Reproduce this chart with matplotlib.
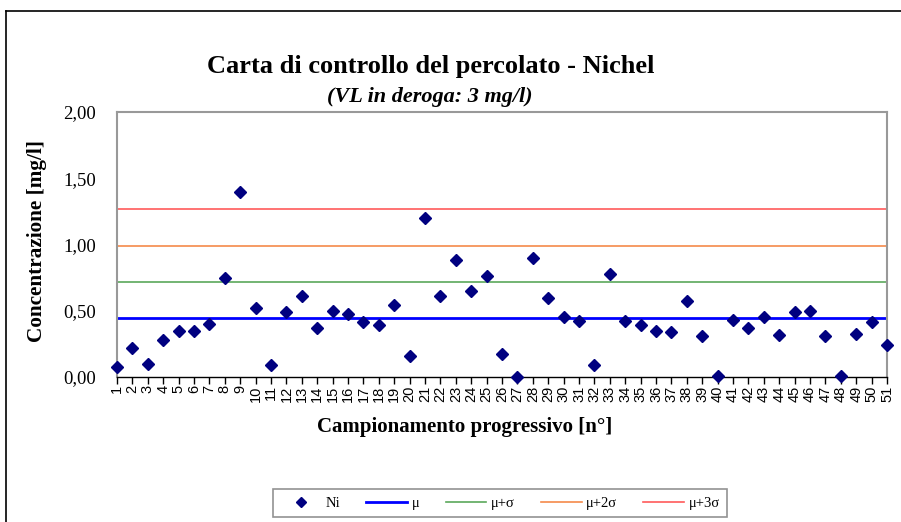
import numpy as np
import matplotlib
matplotlib.use("Agg")
import matplotlib.pyplot as plt
from matplotlib.lines import Line2D

# Dati
campioni = np.arange(1, 52)
nichel = [0.078, 0.218, 0.099, 0.283, 0.344, 0.344, 0.400, 0.750, 1.400, 0.517,
          0.091, 0.494, 0.608, 0.367, 0.501, 0.473, 0.413, 0.395, 0.547, 0.157,
          1.198, 0.615, 0.884, 0.646, 0.765, 0.172, 0.002, 0.900, 0.600, 0.456,
          0.425, 0.089, 0.780, 0.425, 0.395, 0.344, 0.337, 0.570, 0.306, 0.008,
          0.433, 0.367, 0.456, 0.314, 0.494, 0.501, 0.306, 0.008, 0.321, 0.413,
          0.245]
limiti_nomi = ["μ", "μ+σ", "μ+2σ", "μ+3σ"]
limiti_valori = [0.443, 0.717, 0.992, 1.271]
limiti_colori = ["#0000FF", "#5BA85B", "#F58A4A", "#FF5A5A"]
limiti_spessori = [2.0, 1.2, 1.2, 1.2]
yticks = [0.0, 0.5, 1.0, 1.5, 2.0]

serif = "Liberation Serif"
sans = "Liberation Sans"

fig = plt.figure(figsize=(9.01, 5.22), dpi=100)
ax = fig.add_axes([117/901, 1-377/522, (887-117)/901, (377-112)/522])

for val, col, lw in zip(limiti_valori, limiti_colori, limiti_spessori):
    ax.axhline(val, color=col, lw=lw, zorder=2)

ax.plot(campioni, nichel, linestyle="none", marker="D", color="#000080",
        markersize=6.5, zorder=3, clip_on=False)

ax.set_xlim(1, 51)
ax.set_ylim(0, 2)
ax.set_xticks(campioni)
ax.set_xticklabels([str(c) for c in campioni], rotation=90, fontfamily=sans,
                   fontsize=10.5)
ax.set_yticks(yticks)
ax.set_yticklabels([f"{v:.2f}".replace(".", ",") for v in yticks],
                   fontfamily=serif, fontsize=13.5)
ax.tick_params(axis="x", direction="out", length=5, width=1, pad=1)
ax.tick_params(axis="y", length=0, pad=15)

for s in ["top", "right", "left"]:
    ax.spines[s].set_color("#999999")
    ax.spines[s].set_linewidth(1.5)
ax.spines["bottom"].set_color("black")
ax.spines["bottom"].set_linewidth(1)

# Titoli
fig.text(431/901, 1-67/522, "Carta di controllo del percolato - Nichel",
         ha="center", va="center", fontfamily=serif, fontweight="bold",
         fontsize=19)
fig.text(430/901, 1-97/522, "(VL in deroga: 3 mg/l)", ha="center",
         va="center", fontfamily=serif, fontweight="bold", style="italic",
         fontsize=16)
fig.text(37/901, 1-241/522, "Concentrazione [mg/l]", rotation=90,
         ha="center", va="center", fontfamily=serif, fontweight="bold",
         fontsize=15.3)
fig.text(465/901, 1-427/522, "Campionamento progressivo [n°]", ha="center",
         va="center", fontfamily=serif, fontweight="bold", fontsize=15)

# Legenda
handles = [Line2D([], [], linestyle="none", marker="D", color="#000080",
                  markersize=5)]
for col, lw in zip(limiti_colori, limiti_spessori):
    handles.append(Line2D([], [], color=col, lw=lw))
leg = fig.legend(handles, ["Ni"] + limiti_nomi, ncol=5, loc="center",
                 bbox_to_anchor=(500/901, 1-503/522), frameon=True,
                 fancybox=False, edgecolor="#777777", handlelength=2.8,
                 handletextpad=0.3, columnspacing=1.8, borderpad=0.5,
                 prop={"family": serif, "size": 10.5})
leg.get_frame().set_linewidth(1.2)

# Bordo esterno
fig.add_artist(Line2D([6/901, 1], [1-11/522, 1-11/522], color="black",
                      lw=1.2, transform=fig.transFigure))
fig.add_artist(Line2D([6/901, 6/901], [0, 1-11/522], color="black",
                      lw=1.2, transform=fig.transFigure))

fig.savefig("out.png", dpi=100)
